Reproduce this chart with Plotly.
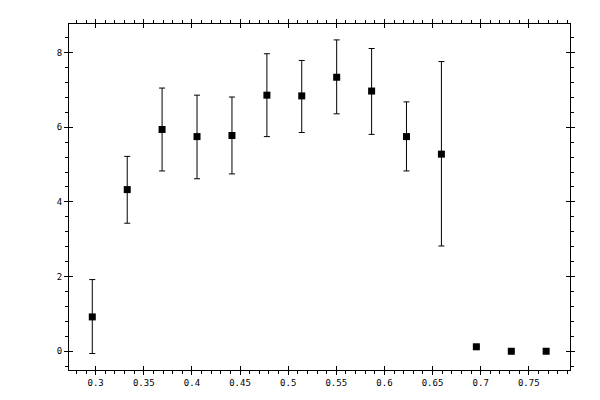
import plotly.graph_objects as go

x = [0.2965, 0.3328, 0.3690, 0.4053, 0.4416, 0.4779, 0.5141,
     0.5504, 0.5867, 0.6229, 0.6592, 0.6955, 0.7318, 0.7680]
y = [0.92, 4.33, 5.94, 5.75, 5.78, 6.86, 6.84,
     7.34, 6.97, 5.75, 5.28, 0.12, 0.00, 0.00]
err_hi = [1.00, 0.89, 1.11, 1.11, 1.03, 1.11, 0.95,
          1.00, 1.14, 0.93, 2.48, 0, 0, 0]
err_lo = [0.98, 0.90, 1.11, 1.13, 1.03, 1.11, 0.98,
          0.98, 1.16, 0.92, 2.46, 0, 0, 0]

x_range = [0.2723, 0.7928]
y_range = [-0.502, 8.766]

fig = go.Figure()
fig.add_trace(go.Scatter(
    x=x, y=y, mode="markers",
    marker=dict(symbol="square", size=7, color="black"),
    error_y=dict(type="data", symmetric=False, array=err_hi, arrayminus=err_lo,
                 color="black", thickness=1, width=3),
    showlegend=False,
))
# dummy trace so the overlay axes are drawn
fig.add_trace(go.Scatter(x=[None], y=[None], xaxis="x2", yaxis="y2",
                         showlegend=False, hoverinfo="skip"))

tickfont = dict(family="DejaVu Sans Mono", size=9, color="black")
common = dict(showgrid=False, zeroline=False, showline=True, linecolor="black",
              linewidth=1, mirror="ticks", tickcolor="black", tickwidth=1)

# page body adds an 8px offset, so margins are shifted to compensate
fig.update_layout(
    width=600, height=400,
    margin=dict(l=61, r=38, t=11, b=38),
    paper_bgcolor="white", plot_bgcolor="white",
    xaxis=dict(range=x_range, tick0=0.3, dtick=0.05, ticks="outside", ticklen=4,
               tickfont=tickfont,
               minor=dict(dtick=0.01, tick0=0.3, ticks="outside", ticklen=3,
                          tickcolor="black", showgrid=False),
               **common),
    yaxis=dict(range=y_range, tick0=0, dtick=2, ticks="outside", ticklen=4,
               tickfont=tickfont,
               minor=dict(dtick=0.4, tick0=0, ticks="outside", ticklen=3,
                          tickcolor="black", showgrid=False),
               **common),
    xaxis2=dict(range=x_range, overlaying="x", tick0=0.3, dtick=0.05,
                ticks="inside", ticklen=4, showticklabels=False, **common),
    yaxis2=dict(range=y_range, overlaying="y", tick0=0, dtick=2,
                ticks="inside", ticklen=4, showticklabels=False, **common),
)

fig.write_html("out.html")
